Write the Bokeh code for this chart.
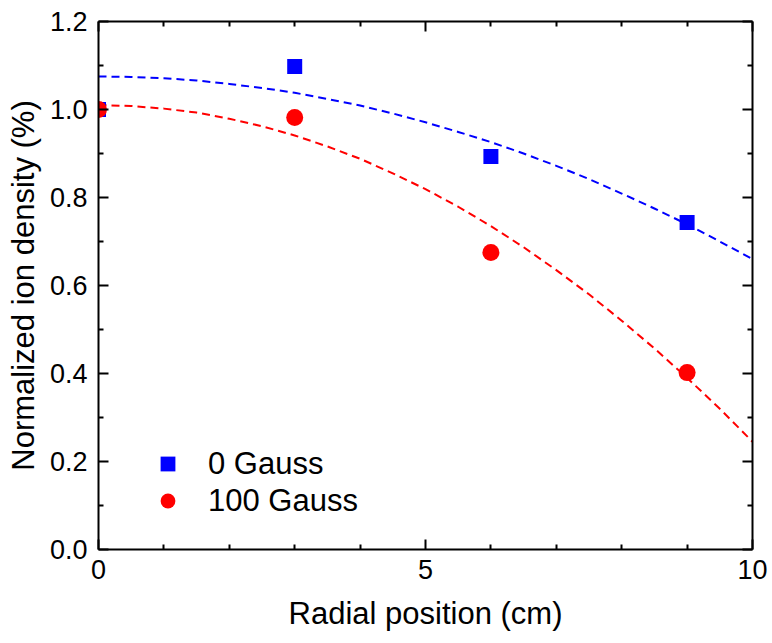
from bokeh.plotting import figure
from bokeh.models import FixedTicker, LinearAxis, Range1d, Legend, LegendItem, PrintfTickFormatter
from bokeh.embed import file_html
from bokeh.resources import INLINE

# measured points
radial_cm = [0, 3, 6, 9]
density_0g = [1.000, 1.098, 0.893, 0.743]
density_100g = [1.000, 0.982, 0.675, 0.402]

# dashed fit curves
fit_x = [0, 0.5, 1, 1.5, 2, 2.5, 3, 3.5, 4, 4.5, 5, 5.5, 6, 6.5, 7, 7.5, 8, 8.5, 9, 9.5, 10]
fit_0g = [1.075, 1.074, 1.071, 1.066, 1.058, 1.049, 1.038, 1.024, 1.009, 0.991, 0.971,
          0.949, 0.926, 0.900, 0.872, 0.842, 0.809, 0.775, 0.739, 0.700, 0.660]
fit_100g = [1.010, 1.008, 1.002, 0.993, 0.979, 0.962, 0.941, 0.916, 0.888, 0.855, 0.819,
            0.779, 0.735, 0.687, 0.635, 0.580, 0.520, 0.457, 0.390, 0.320, 0.245]

x_major = [0, 5, 10]
x_minor = [1, 2, 3, 4, 6, 7, 8, 9]
y_major = [0.0, 0.2, 0.4, 0.6, 0.8, 1.0, 1.2]
y_minor = [0.1, 0.3, 0.5, 0.7, 0.9, 1.1]

FONT = "Liberation Sans"
BLUE = "#0000FF"
RED = "#FF0000"

p = figure(width=770, height=643, output_backend="svg", toolbar_location=None,
           x_range=Range1d(0, 10), y_range=Range1d(0, 1.2),
           min_border_left=98, min_border_right=18, min_border_top=21, min_border_bottom=94,
           x_axis_location=None, y_axis_location=None)
p.outline_line_color = None
p.xgrid.visible = False
p.ygrid.visible = False

def style_axis(ax, ticks, minor, show_labels, label=None):
    ax.ticker = FixedTicker(ticks=ticks, minor_ticks=minor)
    ax.axis_line_width = 2
    ax.axis_line_color = "black"
    ax.major_tick_line_width = 2
    ax.minor_tick_line_width = 2
    ax.major_tick_in = 10
    ax.major_tick_out = 0
    ax.minor_tick_in = 5
    ax.minor_tick_out = 0
    ax.major_label_text_font = FONT
    ax.major_label_text_font_size = "27px"
    ax.major_label_text_color = "black"
    ax.major_label_standoff = 12
    if not show_labels:
        ax.major_label_text_font_size = "0px"
        ax.major_label_text_alpha = 0
        ax.major_label_standoff = 0
    if label:
        ax.axis_label = label
        ax.axis_label_text_font = FONT
        ax.axis_label_text_font_size = "31px"
        ax.axis_label_text_font_style = "normal"
        ax.axis_label_text_color = "black"

xb = LinearAxis()
style_axis(xb, x_major, x_minor, True, "Radial position (cm)")
xb.major_label_standoff = 10
xb.axis_label_standoff = 14
p.add_layout(xb, "below")

yl = LinearAxis()
style_axis(yl, y_major, y_minor, True, "Normalized ion density (%)")
yl.formatter = PrintfTickFormatter(format="%.1f")
yl.major_label_standoff = 11
yl.axis_label_standoff = 6
p.add_layout(yl, "left")

xt = LinearAxis()
style_axis(xt, x_major, x_minor, False)
p.add_layout(xt, "above")

yr = LinearAxis()
style_axis(yr, y_major, y_minor, False)
p.add_layout(yr, "right")

p.line(fit_x, fit_0g, line_color=BLUE, line_width=2, line_dash="8 5")
p.line(fit_x, fit_100g, line_color=RED, line_width=2, line_dash="8 5")

r0 = p.scatter(radial_cm, density_0g, marker="square", size=15,
               fill_color=BLUE, line_color=BLUE, line_width=0)
r1 = p.scatter(radial_cm, density_100g, marker="circle", size=17,
               fill_color=RED, line_color=RED, line_width=0)

legend = Legend(items=[LegendItem(label="0 Gauss", renderers=[r0]),
                       LegendItem(label="100 Gauss", renderers=[r1])],
                location=(51, 30))
legend.padding = 0
legend.margin = 0
legend.spacing = 0
legend.glyph_width = 37
legend.glyph_height = 37
legend.label_height = 37
legend.label_standoff = 22
legend.label_text_font = FONT
legend.label_text_font_size = "31px"
legend.label_text_color = "black"
legend.border_line_color = None
legend.background_fill_alpha = 0
p.add_layout(legend, "center")

open("out.html", "w").write(file_html(p, INLINE))
